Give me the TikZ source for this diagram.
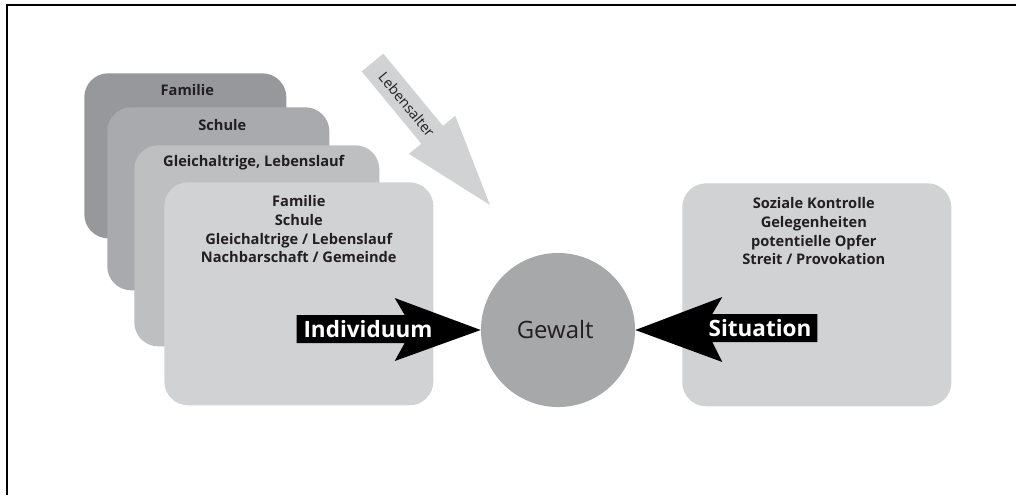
\documentclass[tikz,border=0pt]{standalone}
\usepackage{fontspec}
\setmainfont{Open Sans}
\usepackage{tikz}
\usetikzlibrary{calc}
\usetikzlibrary{positioning}
\definecolor{boxdark}{RGB}{151,152,155}
\definecolor{boxmid}{RGB}{169,170,173}
\definecolor{boxlight}{RGB}{190,191,193}
\definecolor{boxpale}{RGB}{209,210,212}
\definecolor{circlegrey}{RGB}{167,168,170}
\definecolor{textgrey}{RGB}{35,31,32}
\tikzstyle{layer} = [rectangle, rounded corners=0.6cm, draw=none, anchor=north west, inner sep=0pt]
\tikzstyle{bigbox} = [layer, minimum width=6.725cm, minimum height=5.575cm, fill=boxpale]
\tikzstyle{layertext} = [font=\bfseries\fontsize{10.4}{13.4}\selectfont, text=textgrey, align=center, inner sep=0pt]
\tikzstyle{arrowtext} = [font=\bfseries\fontsize{16}{18}\selectfont, text=white, inner sep=0pt]

\begin{document}
\begin{tikzpicture}[x=0.025cm, y=0.025cm]
\useasboundingbox (0,0) rectangle (1016,-495);
\draw[line width=1.5pt] (7,-495) -- (7,-5) -- (1016,-5);

% stacked layers
\node (fam) [layer, fill=boxdark, minimum width=5.05cm, minimum height=4.125cm] at (84,-73) {};
\node (sch) [layer, fill=boxmid, minimum width=5.55cm, minimum height=4.575cm] at (107,-107) {};
\node (gleich) [layer, fill=boxlight, minimum width=6.125cm, minimum height=5.025cm] at (134,-145) {};
\node (indiv) [bigbox] at (164,-182) {};
\node (situ) [bigbox] at (682,-183) {};
\node (gewalt) [circle, fill=circlegrey, minimum size=3.85cm, inner sep=0pt, text=textgrey, font=\fontsize{17}{19}\selectfont] at (558,-330) {Gewalt\hspace*{4pt}};

\node (famtxt) [layertext] at ($(fam.north)+(2,-17)$) {Familie};
\node (schtxt) [layertext] at ($(sch.north)+(4,-18)$) {Schule};
\node (gleichtxt) [layertext] at ($(gleich.north)+(-3,-18)$) {Gleichaltrige, Lebenslauf};
\node (indivtxt) [layertext, anchor=north] at ($(indiv.north)+(0,-13)$) {Familie\\Schule\\Gleichaltrige / Lebenslauf\\Nachbarschaft / Gemeinde};
\node (situtxt) [layertext, anchor=north] at ($(situ.north)+(-3,-14)$) {Soziale Kontrolle\\Gelegenheiten\\potentielle Opfer\\Streit / Provokation};

% block arrows
\fill[black] ($(gewalt.west)+(-184,15)$) -- ($(gewalt.west)+(-76,15)$) -- ($(gewalt.west)+(-86,32)$)
  -- (gewalt.west) -- ($(gewalt.west)+(-86,-31)$) -- ($(gewalt.west)+(-76,-13)$) -- ($(gewalt.west)+(-184,-13)$) -- cycle;
\node (indivarrow) [arrowtext] at (368,-329) {Individuum};
\fill[black] ($(gewalt.east)+(87,33)$) -- ($(gewalt.east)+(77,16)$) -- ($(gewalt.east)+(182,16)$)
  -- ($(gewalt.east)+(182,-12)$) -- ($(gewalt.east)+(77,-12)$) -- ($(gewalt.east)+(87,-32)$) -- (gewalt.east) -- cycle;
\node (situarrow) [arrowtext] at (760,-328) {Situation};

\begin{scope}[shift={(372.5,-62.5)}, rotate=-50.5]
\fill[boxpale] (0,14) -- (93.7,14) -- (93.7,30) -- (184.7,0) -- (93.7,-30) -- (93.7,-14) -- (0,-14) -- cycle;
\node (alter) [rotate=-50.5, text=textgrey, font=\fontsize{10.2}{11}\selectfont, inner sep=0pt] at (54,0) {Lebensalter};
\end{scope}
\end{tikzpicture}
\end{document}
